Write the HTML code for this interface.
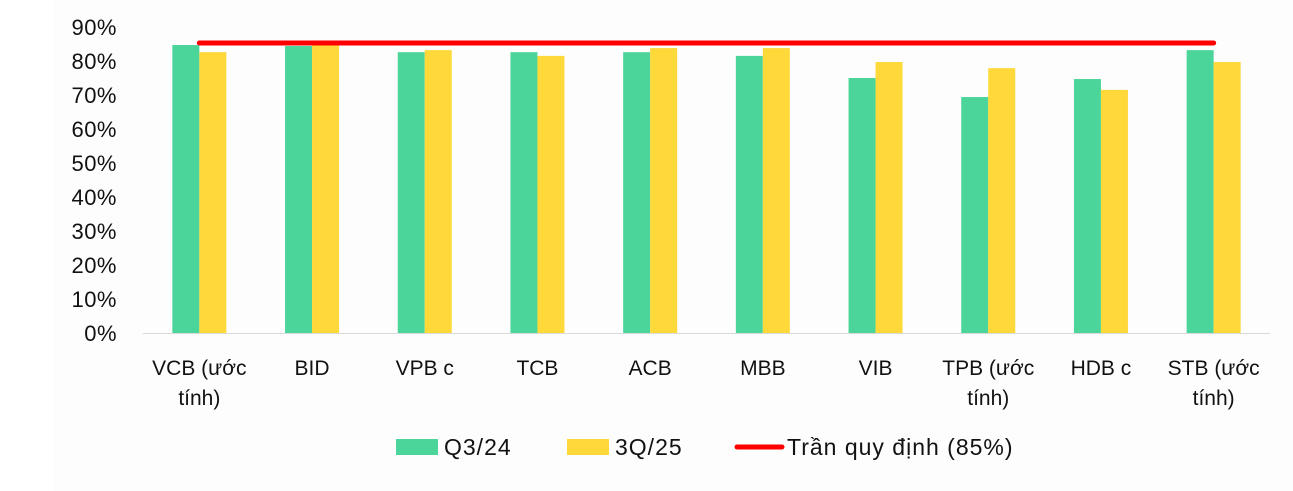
<!DOCTYPE html>
<html><head><meta charset="utf-8"><style>
body{margin:0;background:#fff;}
svg{display:block;font-family:"Liberation Sans",sans-serif;}
</style></head><body>
<svg id="c" width="1293" height="491">
<rect x="53" y="0" width="1240" height="491" fill="#fdfdfd"/>
</svg>
<script>
const categories=[["VCB (ước","tính)"],["BID"],["VPB c"],["TCB"],["ACB"],["MBB"],["VIB"],["TPB (ước","tính)"],["HDB c"],["STB (ước","tính)"]];
const q324=[84.7,84.4,82.6,82.6,82.6,81.5,75.0,69.4,74.7,83.2];
const q325=[82.6,84.7,83.2,81.5,83.8,83.8,79.7,77.9,71.5,79.7];
const ceiling=85.3;
const yTicks=[0,10,20,30,40,50,60,70,80,90];
const NS="http://www.w3.org/2000/svg";
const svg=document.getElementById('c');
const x0=143,x1=1270,y0=333,yTop=27;
const band=(x1-x0)/categories.length;
const y=v=>y0-(v/90)*(y0-yTop);
const cx=i=>x0+band*(i+0.5);
const bw=27;
function mk(t,a){const e=document.createElementNS(NS,t);for(const k in a)e.setAttribute(k,a[k]);svg.appendChild(e);return e;}
yTicks.forEach(v=>{const t=mk('text',{x:117,y:y(v)+8,'text-anchor':'end','font-size':22,fill:'#111','letter-spacing':0.5});t.textContent=v+'%';

});
const ax=mk('line',{x1:x0,x2:x1,y1:y0+0.5,y2:y0+0.5,stroke:'#d9d9d9','stroke-width':1});


categories.forEach((c,i)=>{
 const g=mk('rect',{x:cx(i)-bw,y:y(q324[i]),width:bw,height:y0-y(q324[i]),fill:'#4CD59A'});
 
 
 const b=mk('rect',{x:cx(i),y:y(q325[i]),width:bw,height:y0-y(q325[i]),fill:'#FFD83A'});
 
 
 c.forEach((ln,j)=>{const t=mk('text',{x:cx(i),y:375+j*30,'text-anchor':'middle','font-size':21,fill:'#111'});t.textContent=ln;
 
 });
});
const rl=mk('line',{x1:cx(0),x2:cx(categories.length-1),y1:y(ceiling),y2:y(ceiling),stroke:'#f00','stroke-width':5,'stroke-linecap':'round'});


const leg=[['rect','#4CD59A','Q3/24',396],['rect','#FFD83A','3Q/25',567],['line','#f00','Trần quy định (85%)',737]];
leg.forEach(l=>{
 let m;
 if(l[0]==='rect')m=mk('rect',{x:l[3],y:439,width:42,height:16,fill:l[1]});
 else m=mk('line',{x1:l[3],x2:l[3]+45,y1:447,y2:447,stroke:l[1],'stroke-width':5,'stroke-linecap':'round'});
 
 
 const t=mk('text',{x:l[3]+(l[0]==='rect'?48:50),y:455,'font-size':23,fill:'#111','letter-spacing':1});t.textContent=l[2];
 
 
});
</script>
</body></html>
